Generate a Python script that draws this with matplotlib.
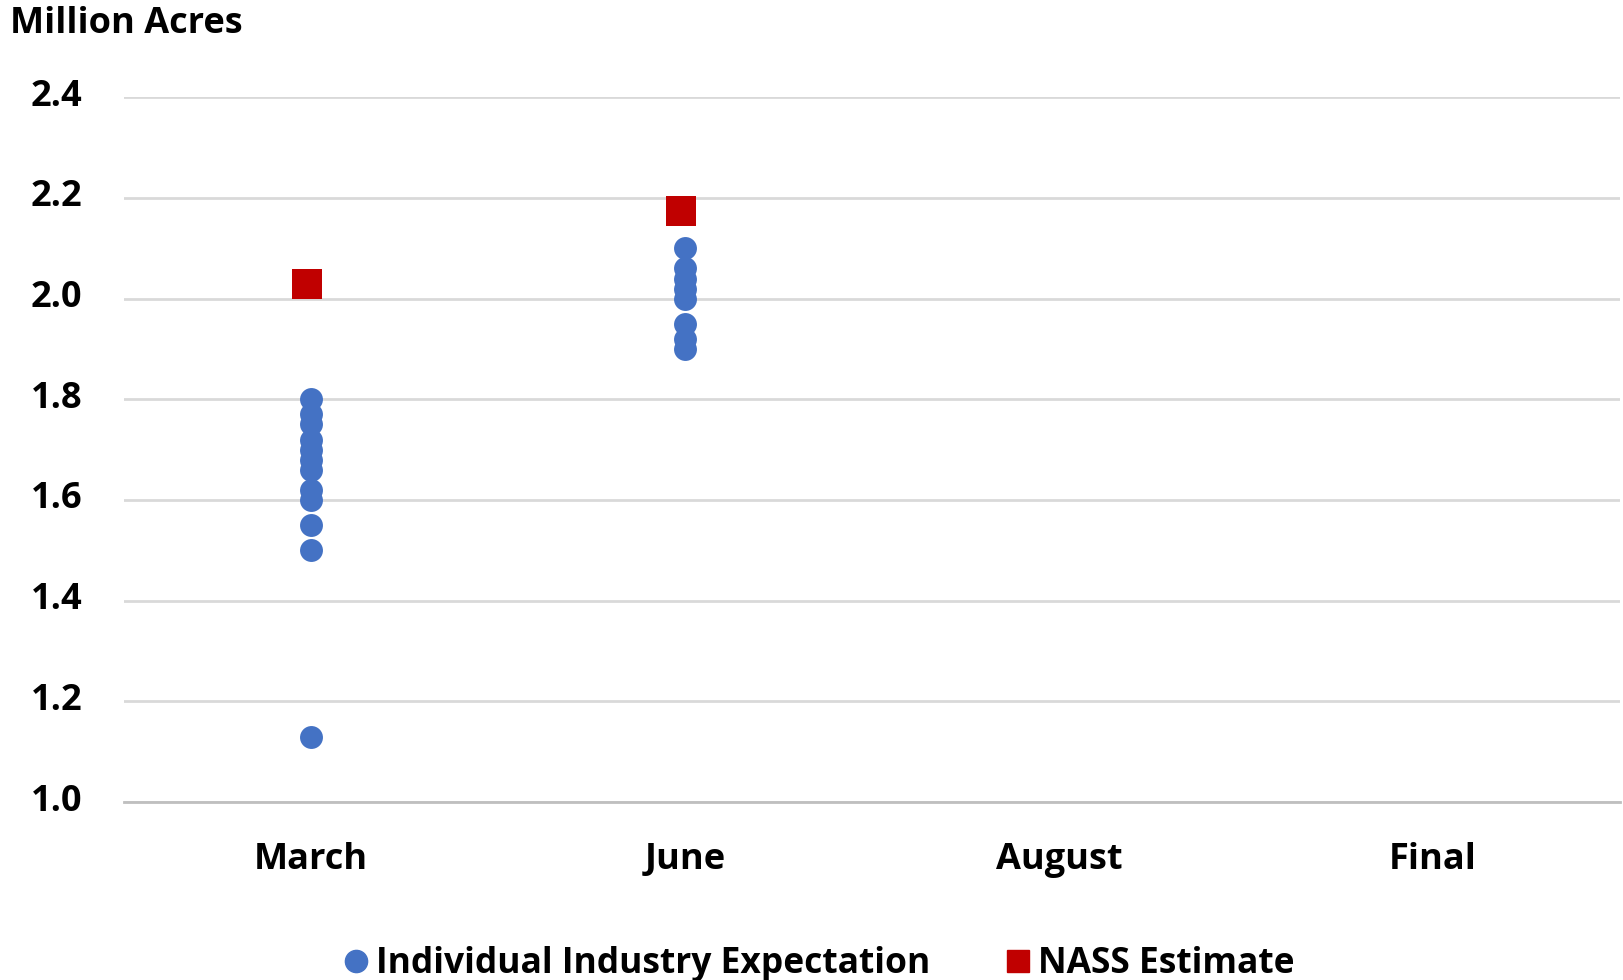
import numpy as np
import matplotlib.pyplot as plt
from matplotlib.lines import Line2D
from matplotlib.transforms import ScaledTranslation

plt.rcParams['font.family'] = ['Open Sans', 'DejaVu Sans']
plt.rcParams['font.weight'] = 'bold'

categorias = ["March", "June", "August", "Final"]

# Expectativas individuales de la industria (millones de acres)
expect_march = [1.80, 1.77, 1.75, 1.72, 1.70, 1.68, 1.66, 1.62, 1.60, 1.55, 1.50, 1.13]
expect_june = [2.10, 2.06, 2.04, 2.02, 2.00, 1.95, 1.92, 1.90]

# Estimacion NASS
nass_mes = ["March", "June"]
nass_valor = [2.03, 2.175]

y_ticks = [1.0, 1.2, 1.4, 1.6, 1.8, 2.0, 2.2, 2.4]

azul = "#4472C4"
rojo = "#C00000"

fig = plt.figure(figsize=(16.23, 9.80), dpi=100)
ax = fig.add_axes([124 / 1623, 178 / 980, 1496 / 1623, 704.7 / 980])

pos = {c: i + 0.5 for i, c in enumerate(categorias)}

for mes, vals in [("March", expect_march), ("June", expect_june)]:
    ax.scatter(np.full(len(vals), pos[mes]), vals, s=16.5 ** 2, color=azul,
               marker='o', linewidths=0, zorder=3)

ax.scatter([pos[m] - 0.01 for m in nass_mes], nass_valor, s=22 ** 2, color=rojo,
           marker='s', linewidths=0, zorder=4)

ax.set_xlim(0, len(categorias))
ax.set_ylim(1.0, 2.4)
ax.set_yticks(y_ticks)
ax.set_yticklabels([f"{v:.1f}" for v in y_ticks])
ax.set_xticks([pos[c] for c in categorias])
ax.set_xticklabels(categorias)

ax.grid(axis='y', color='#D9D9D9', linewidth=2.0, zorder=0)
ax.set_axisbelow(True)
for lado in ['top', 'right', 'left']:
    ax.spines[lado].set_visible(False)
ax.spines['bottom'].set_color('#BFBFBF')
ax.spines['bottom'].set_linewidth(2.0)
ax.spines['bottom'].set_zorder(1)

ax.tick_params(axis='both', length=0, labelsize=26, labelcolor='black')
ax.tick_params(axis='y', pad=30)
ax.tick_params(axis='x', pad=29)

# etiquetas del eje y un poco por encima de la linea
subir = ScaledTranslation(0, 5 / 100, fig.dpi_scale_trans)
for lbl in ax.get_yticklabels():
    lbl.set_transform(lbl.get_transform() + subir)

fig.text(10 / 1623, 1 - 24 / 980, "Million Acres", fontsize=26, fontweight='bold',
         ha='left', va='center')

handles = [
    Line2D([], [], marker='o', color=azul, linestyle='none', markersize=16),
    Line2D([], [], marker='s', color=rojo, linestyle='none', markersize=16),
]
fig.legend(handles, ["Individual Industry Expectation", "NASS Estimate"],
           loc='center', bbox_to_anchor=(0.503, 16 / 980), ncol=2, frameon=False,
           fontsize=25.5, handletextpad=0.05, columnspacing=2.0, handlelength=1.0)

fig.savefig("out.png", dpi=100)
